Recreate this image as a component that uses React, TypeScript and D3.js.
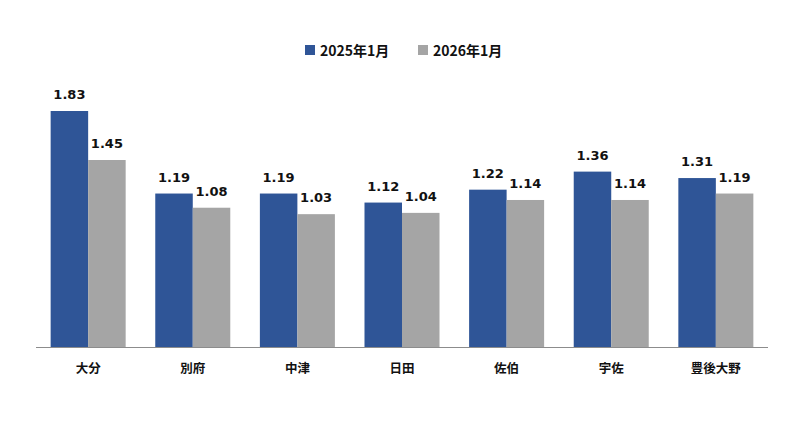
import React from "react";
import * as d3 from "d3";

const categories = ["大分", "別府", "中津", "日田", "佐伯", "宇佐", "豊後大野"];
const seriesNames = ["2025年1月", "2026年1月"];
const values2025 = [1.83, 1.19, 1.19, 1.12, 1.22, 1.36, 1.31];
const values2026 = [1.45, 1.08, 1.03, 1.04, 1.14, 1.14, 1.19];
const colors = ["#2F5597", "#A5A5A5"];

const W = 800;
const H = 435;
const left = 36;
const right = 768;
const baseY = 347;
const topRef = 111;

export default function App() {
  const x0 = d3.scaleBand<string>().domain(categories).range([left, right]).paddingInner(0.283).paddingOuter(0.14);
  const x1 = d3.scaleBand<string>().domain(seriesNames).range([0, x0.bandwidth()]);
  const y = d3.scaleLinear().domain([0, 1.83]).range([baseY, topRef]);
  const series = [values2025, values2026];
  const numFont = "'DejaVu Sans', Verdana, sans-serif";
  const cjkFont = "'Noto Sans CJK JP', 'DejaVu Sans', sans-serif";

  return (
    <svg width={W} height={H} style={{ position: "absolute", left: 0, top: 0, background: "#fff" }}>
      <rect width={W} height={H} fill="#fff" />
      {/* legend */}
      <g>
        <rect x={305} y={45} width={10} height={10} fill={colors[0]} />
        <text x={320} y={55.5} fontFamily={cjkFont} fontWeight="bold" fontSize={14} fill="#111">{seriesNames[0]}</text>
        <rect x={418} y={45} width={10} height={10} fill={colors[1]} />
        <text x={433} y={55.5} fontFamily={cjkFont} fontWeight="bold" fontSize={14} fill="#111">{seriesNames[1]}</text>
      </g>
      {categories.map((c, i) => (
        <g key={c}>
          {series.map((vals, s) => {
            const bx = (x0(c) as number) + (x1(seriesNames[s]) as number);
            const bw = x1.bandwidth();
            return (
              <g key={s}>
                <rect x={bx} y={y(vals[i])} width={bw} height={baseY - y(vals[i])} fill={colors[s]} />
                <text x={bx + bw / 2} y={y(vals[i]) - 12} textAnchor="middle" fontFamily={numFont} fontWeight="bold" fontSize={13} fill="#111">
                  {vals[i].toFixed(2)}
                </text>
              </g>
            );
          })}
          <text x={(x0(c) as number) + x0.bandwidth() / 2} y={373} textAnchor="middle" fontFamily={cjkFont} fontWeight="bold" fontSize={12.5} fill="#111">
            {c}
          </text>
        </g>
      ))}
      <line x1={left} x2={right} y1={baseY + 0.5} y2={baseY + 0.5} stroke="#8C8C8C" strokeWidth={1} />
    </svg>
  );
}
